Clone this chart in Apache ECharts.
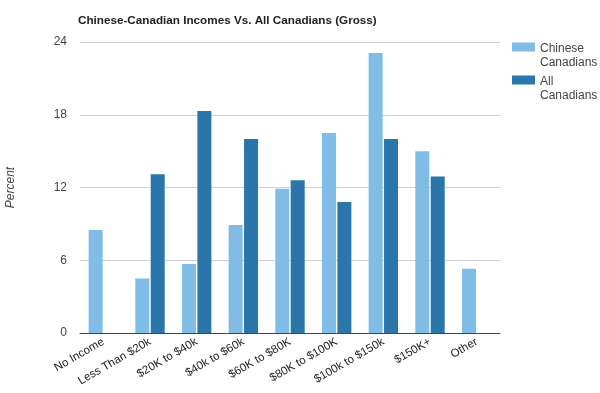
<!DOCTYPE html>
<html>
<head>
<meta charset="utf-8">
<script src="https://cdn.jsdelivr.net/npm/echarts@6/dist/echarts.min.js"></script>
<style>
html,body{margin:0;padding:0;background:#fff;}
#chart{width:600px;height:393px;}
</style>
</head>
<body>
<div id="chart"></div>
<script>
var categories = ['No Income', 'Less Than $20k', '$20K to $40k', '$40k to $60k', '$60K to $80K', '$80K to $100K', '$100k to $150k', '$150K+', 'Other'];
var chineseCanadians = [8.5, 4.5, 5.7, 8.9, 11.9, 16.5, 23.1, 15.0, 5.3];
var allCanadians = [null, 13.1, 18.3, 16.0, 12.6, 10.8, 16.0, 12.9, null];
var yTicks = [0, 6, 12, 18, 24];

var font = '"Liberation Sans", Arial, sans-serif';
var chart = echarts.init(document.getElementById('chart'));
var legendIcon = 'path://M0,0 L23,0 L23,9 L0,9 Z M0,27 L0.01,27 L0.01,27.01 Z';
chart.setOption({
  animation: false,
  textStyle: { fontFamily: font },
  title: {
    text: 'Chinese-Canadian Incomes Vs. All Canadians (Gross)',
    left: 73, top: 10,
    textStyle: { fontFamily: font, fontSize: 11.7, fontWeight: 'bold', color: '#222' }
  },
  legend: {
    orient: 'vertical',
    left: 512, top: 42,
    padding: 0,
    itemWidth: 23, itemHeight: 27,
    itemGap: 5,
    icon: legendIcon,
    data: ['Chinese Canadians', 'All Canadians'],
    formatter: function (n) { return n.replace(' ', '\n'); },
    textStyle: { fontFamily: font, fontSize: 12, color: '#444', lineHeight: 14 },
    itemStyle: { borderWidth: 0 }
  },
  grid: { left: 80, right: 100, top: 42, bottom: 60, containLabel: false, outerBoundsMode: 'none' },
  xAxis: {
    type: 'category',
    data: categories,
    axisTick: { show: false },
    axisLine: { lineStyle: { color: '#444', width: 1 } },
    axisLabel: { interval: 0, rotate: 30, fontSize: 11.5, color: '#222', margin: 8, fontFamily: font }
  },
  yAxis: {
    type: 'value',
    min: yTicks[0], max: yTicks[yTicks.length - 1], interval: 6,
    name: 'Percent',
    nameLocation: 'middle',
    nameRotate: 90,
    nameGap: 63,
    nameTextStyle: { fontStyle: 'italic', fontSize: 12, color: '#444', fontFamily: font },
    axisLine: { show: false },
    axisTick: { show: false },
    axisLabel: { fontSize: 12, color: '#444', margin: 13, fontFamily: font },
    splitLine: { lineStyle: { color: '#d0d0d0', width: 1 } }
  },
  series: [
    {
      name: 'Chinese Canadians', type: 'bar',
      data: chineseCanadians,
      barWidth: 14, barGap: '10%',
      itemStyle: { color: '#80bde6' }
    },
    {
      name: 'All Canadians', type: 'bar',
      data: allCanadians,
      barWidth: 14, barGap: '10%',
      itemStyle: { color: '#2a76aa' }
    }
  ]
});
</script>
</body>
</html>
